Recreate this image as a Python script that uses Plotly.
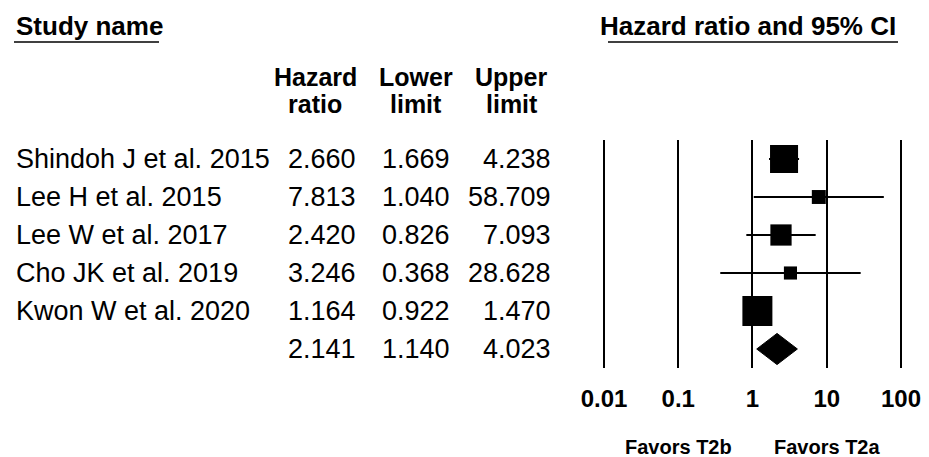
import math
import plotly.graph_objects as go

# ---------------- data ----------------
studies = ["Shindoh J et al. 2015", "Lee H et al. 2015", "Lee W et al. 2017",
           "Cho JK et al. 2019", "Kwon W et al. 2020"]
hazard_ratio = [2.660, 7.813, 2.420, 3.246, 1.164]
lower_limit = [1.669, 1.040, 0.826, 0.368, 0.922]
upper_limit = [4.238, 58.709, 7.093, 28.628, 1.470]
summary_hr = 2.141
summary_lower = 1.140
summary_upper = 4.023
tick_vals = [0.01, 0.1, 1, 10, 100]
tick_text = ["0.01", "0.1", "1", "10", "100"]
col_headers = [["Hazard", "ratio"], ["Lower", "limit"], ["Upper", "limit"]]
favors_labels = ["Favors T2b", "Favors T2a"]
favors_at = [0.1, 10]

# ---------------- random-effects weights (DerSimonian-Laird) ----------------
y = [math.log(v) for v in hazard_ratio]
var = [((math.log(u) - math.log(l)) / (2 * 1.959964)) ** 2
       for l, u in zip(lower_limit, upper_limit)]
w_fe = [1 / v for v in var]
W = sum(w_fe)
mu_fe = sum(w * yi for w, yi in zip(w_fe, y)) / W
Q = sum(w * (yi - mu_fe) ** 2 for w, yi in zip(w_fe, y))
C = W - sum(w * w for w in w_fe) / W
tau2 = max(0.0, (Q - (len(y) - 1)) / C)
w_re = [1 / (v + tau2) for v in var]
wmax = max(w_re)
MAX_SIDE = 30
marker_sizes = [MAX_SIDE * math.sqrt(w / wmax) for w in w_re]

FONT = "Arial, Liberation Sans, sans-serif"
W_PX, H_PX = 929, 457

def px(x):
    return x / W_PX

def py(yp):
    return 1 - yp / H_PX

n = len(studies)
rows = list(range(n))
sum_row = n

fig = go.Figure()

# CI lines
ci_x, ci_y = [], []
for i in rows:
    ci_x += [lower_limit[i], upper_limit[i], None]
    ci_y += [i, i, None]
fig.add_trace(go.Scatter(x=ci_x, y=ci_y, mode="lines",
                         line=dict(color="black", width=2),
                         hoverinfo="skip", showlegend=False))

# squares
fig.add_trace(go.Scatter(x=hazard_ratio, y=rows, mode="markers",
                         marker=dict(symbol="square", size=marker_sizes,
                                     color="black", opacity=1,
                                     line=dict(width=0)),
                         showlegend=False, cliponaxis=False))

# summary diamond
hh = 0.41
fig.add_trace(go.Scatter(
    x=[summary_lower, summary_hr, summary_upper, summary_hr, summary_lower],
    y=[sum_row, sum_row - hh, sum_row, sum_row + hh, sum_row],
    mode="lines", fill="toself", fillcolor="black",
    line=dict(color="black", width=1), showlegend=False, hoverinfo="skip"))

ann = []
name_x = px(14)
col_right = [px(358), px(452), px(553)]
col_center = [px(315), px(416), px(512)]

for i in rows:
    ann.append(dict(x=name_x, y=i, xref="paper", yref="y", text=studies[i],
                    xanchor="left", yanchor="middle", showarrow=False,
                    font=dict(family=FONT, size=27, color="black")))
    for c, val in enumerate([hazard_ratio[i], lower_limit[i], upper_limit[i]]):
        ann.append(dict(x=col_right[c], y=i, xref="paper", yref="y",
                        text=f"{val:.3f}", xanchor="right", yanchor="middle",
                        showarrow=False,
                        font=dict(family=FONT, size=27, color="black")))
for c, val in enumerate([summary_hr, summary_lower, summary_upper]):
    ann.append(dict(x=col_right[c], y=sum_row, xref="paper", yref="y",
                    text=f"{val:.3f}", xanchor="right", yanchor="middle",
                    showarrow=False,
                    font=dict(family=FONT, size=27, color="black")))

# column headers
for c, (l1, l2) in enumerate(col_headers):
    ann.append(dict(x=col_center[c], y=py(77), xref="paper", yref="paper",
                    text=l1, xanchor="center", yanchor="middle", showarrow=False,
                    font=dict(family=FONT, size=25, color="black", weight="bold")))
    ann.append(dict(x=col_center[c], y=py(104), xref="paper", yref="paper",
                    text=l2, xanchor="center", yanchor="middle", showarrow=False,
                    font=dict(family=FONT, size=25, color="black", weight="bold")))

# titles
ann.append(dict(x=px(14), y=py(26), xref="paper", yref="paper", text="Study name",
                xanchor="left", yanchor="middle", showarrow=False,
                font=dict(family=FONT, size=26, color="black", weight="bold")))
ann.append(dict(x=px(898), y=py(26), xref="paper", yref="paper",
                text="Hazard ratio and 95% CI",
                xanchor="right", yanchor="middle", showarrow=False,
                font=dict(family=FONT, size=26, color="black", weight="bold")))

# favors labels
for lab, at in zip(favors_labels, favors_at):
    ann.append(dict(x=math.log10(at), y=py(447), xref="x", yref="paper", text=lab,
                    xanchor="center", yanchor="middle", showarrow=False,
                    font=dict(family=FONT, size=20, color="black", weight="bold")))

shapes = [
    dict(type="line", xref="paper", yref="paper", x0=px(14), x1=px(159),
         y0=py(42), y1=py(42), line=dict(color="black", width=1.5)),
    dict(type="line", xref="paper", yref="paper", x0=px(608), x1=px(898),
         y0=py(42), y1=py(42), line=dict(color="black", width=1.5)),
]

x_left_px, x_right_px = 604, 901
dec_px = (x_right_px - x_left_px) / 4
pad = 0.3
fig.update_layout(
    width=W_PX, height=H_PX,
    margin=dict(l=0, r=0, t=0, b=0, autoexpand=False),
    paper_bgcolor="white", plot_bgcolor="white",
    showlegend=False,
    annotations=ann, shapes=shapes,
    xaxis=dict(type="log", range=[-2 - pad, 2 + pad],
               domain=[px(x_left_px - pad * dec_px), px(x_right_px + pad * dec_px)],
               tickvals=tick_vals, ticktext=tick_text,
               showgrid=True, gridcolor="black", gridwidth=2,
               zeroline=False, showline=False, ticks="",
               automargin=False,
               ticklabelstandoff=14,
               tickfont=dict(family=FONT, size=24, color="black", weight="bold"),
               fixedrange=True),
    yaxis=dict(range=[sum_row + 0.5, -0.5], domain=[py(368), py(140)],
               showgrid=False, zeroline=False, showticklabels=False,
               showline=False, automargin=False, fixedrange=True),
)

fig.write_html("out.html")
